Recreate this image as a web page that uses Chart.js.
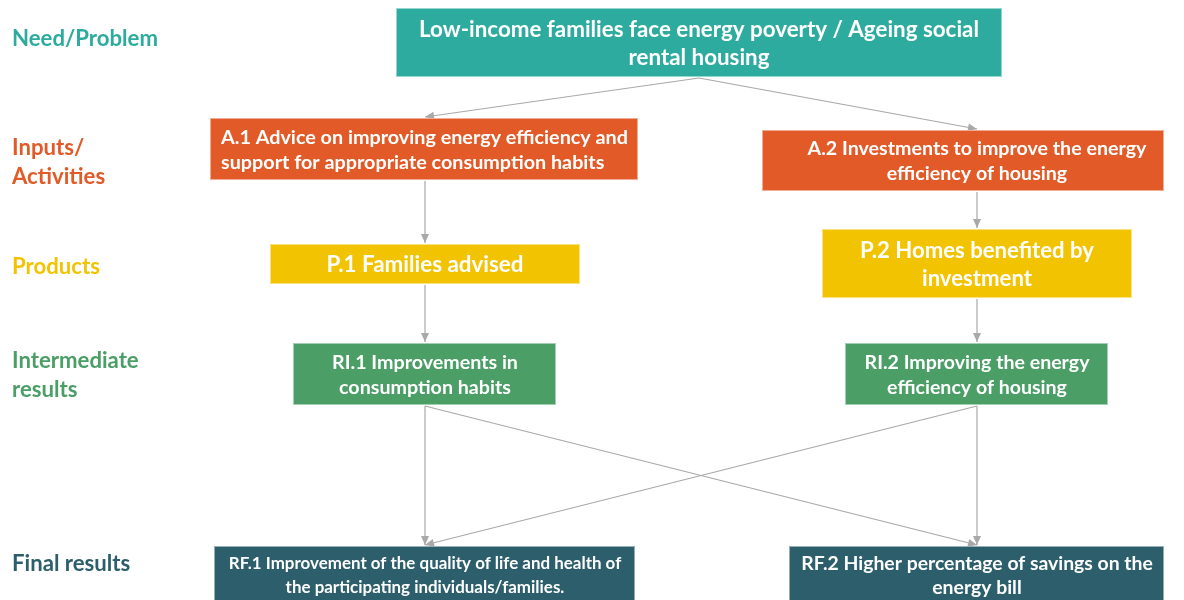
<!DOCTYPE html>
<html>
<head>
<meta charset="utf-8">
<script src="https://cdn.jsdelivr.net/npm/chart.js@4.4.1/dist/chart.umd.min.js"></script>
<style>
  body { margin: 0; background: #fff; }
  canvas { display: block; }
</style>
</head>
<body>
<canvas id="flow" width="1184" height="600"></canvas>
<script>
// stages of the chain, top to bottom
const levelNames = [["Need/Problem"], ["Inputs/", "Activities"], ["Products"], ["Intermediate", "results"], ["Final results"]];
const levelColors = ["#2EAB9F", "#E15A27", "#F2C300", "#4A9E66", "#2C5F6B"];
const levelLabelY = [38, 161.5, 266, 374.5, 563];

// boxes
const nodeLevel = [0, 1, 1, 2, 2, 3, 3, 4, 4];
const nodeLines = [
  ["Low-income families face energy poverty / Ageing social", "rental housing"],
  ["A.1 Advice on improving energy efficiency and", "support for appropriate consumption habits"],
  ["A.2 Investments to improve the energy", "efficiency of housing"],
  ["P.1 Families advised"],
  ["P.2 Homes benefited by", "investment"],
  ["RI.1 Improvements in", "consumption habits"],
  ["RI.2 Improving the energy", "efficiency of housing"],
  ["RF.1 Improvement of the quality of life and health of", "the participating individuals/families."],
  ["RF.2 Higher percentage of savings on the", "energy bill"],
];

// box layout in page units (x 0..1184, y 0..600)
const nodeLeft = [396, 210, 762, 270, 822, 293, 845, 214, 789];
const nodeRight = [1002, 638, 1164, 580, 1132, 556, 1108, 635, 1164];
const nodeTop = [8, 118, 130, 244, 229, 343, 343, 546, 546];
const nodeBottom = [77, 180, 191, 284, 298, 405, 405, 604, 604];
const nodeAnchorX = [699, 425, 977, 425, 977, 425, 977, 425, 977];
const nodeTextW = [560, 407, 339, 197, 234, 186, 225, 393, 352];
const nodeLineGap = [28, 25, 25, 28, 28, 25, 25, 24, 24];

// arrows: [from, to]
const edges = [[0, 1], [0, 2], [1, 3], [2, 4], [3, 5], [4, 6], [5, 7], [5, 8], [6, 8], [6, 7]];

const FONT = "Lato, 'Open Sans', sans-serif";
const arrowColor = "#A9A9A9";

const datasets = edges.map(([a, b]) => ({
  data: [
    { x: nodeAnchorX[a], y: nodeBottom[a] + 1 },
    { x: nodeAnchorX[b], y: nodeTop[b] - 1 },
  ],
  showLine: true,
  borderColor: arrowColor,
  borderWidth: 1.2,
  pointRadius: 0,
}));

function fitSize(ctx, lines, target) {
  ctx.font = "bold 100px " + FONT;
  const w = Math.max(...lines.map((l) => ctx.measureText(l).width));
  return (100 * target) / w;
}

const flowPlugin = {
  id: "flow",
  afterDatasetsDraw(chart) {
    const { ctx, scales } = chart;
    const px = (v) => scales.x.getPixelForValue(v);
    const py = (v) => scales.y.getPixelForValue(v);
    ctx.save();

    // arrow heads
    chart.data.datasets.forEach((ds, i) => {
      const pts = chart.getDatasetMeta(i).data;
      const p0 = pts[0], p1 = pts[1];
      const ang = Math.atan2(p1.y - p0.y, p1.x - p0.x);
      const len = 9, half = 4;
      ctx.fillStyle = arrowColor;
      ctx.beginPath();
      ctx.moveTo(p1.x, p1.y);
      ctx.lineTo(p1.x - len * Math.cos(ang) + half * Math.sin(ang), p1.y - len * Math.sin(ang) - half * Math.cos(ang));
      ctx.lineTo(p1.x - len * Math.cos(ang) - half * Math.sin(ang), p1.y - len * Math.sin(ang) + half * Math.cos(ang));
      ctx.closePath();
      ctx.fill();
    });

    // boxes
    nodeLines.forEach((lines, i) => {
      const x0 = px(nodeLeft[i]), x1 = px(nodeRight[i]);
      const y0 = py(nodeTop[i]), y1 = py(nodeBottom[i]);
      ctx.fillStyle = levelColors[nodeLevel[i]];
      ctx.fillRect(x0, y0, x1 - x0, y1 - y0);
      ctx.strokeStyle = "rgba(255,255,255,0.5)";
      ctx.lineWidth = 1;
      ctx.strokeRect(x0 + 0.5, y0 + 0.5, x1 - x0 - 1, y1 - y0 - 1);

      const size = fitSize(ctx, lines, nodeTextW[i]);
      ctx.font = "bold " + size.toFixed(2) + "px " + FONT;
      ctx.fillStyle = "#fff";
      ctx.textBaseline = "middle";
      const left = i === 1;
      ctx.textAlign = left ? "left" : "center";
      const tx = left ? x0 + 11 : px(nodeAnchorX[i]);
      const cy = (y0 + y1) / 2 + 1;
      lines.forEach((l, k) => {
        ctx.fillText(l, tx, cy + (k - (lines.length - 1) / 2) * nodeLineGap[i]);
      });
    });

    // stage labels on the left
    const lsize = fitSize(ctx, levelNames[0], 146);
    ctx.font = "bold " + lsize.toFixed(2) + "px " + FONT;
    ctx.textAlign = "left";
    ctx.textBaseline = "middle";
    levelNames.forEach((lines, i) => {
      ctx.fillStyle = levelColors[i];
      lines.forEach((l, k) => {
        ctx.fillText(l, px(12), py(levelLabelY[i]) + 1 + (k - (lines.length - 1) / 2) * 29);
      });
    });
    ctx.restore();
  },
};

new Chart(document.getElementById("flow"), {
  type: "scatter",
  data: { datasets },
  options: {
    responsive: false,
    animation: false,
    layout: { padding: 0 },
    plugins: { legend: { display: false }, tooltip: { enabled: false } },
    scales: {
      x: { type: "linear", min: 0, max: 1184, display: false },
      y: { type: "linear", min: 0, max: 600, reverse: true, display: false },
    },
  },
  plugins: [flowPlugin],
});
</script>
</body>
</html>
